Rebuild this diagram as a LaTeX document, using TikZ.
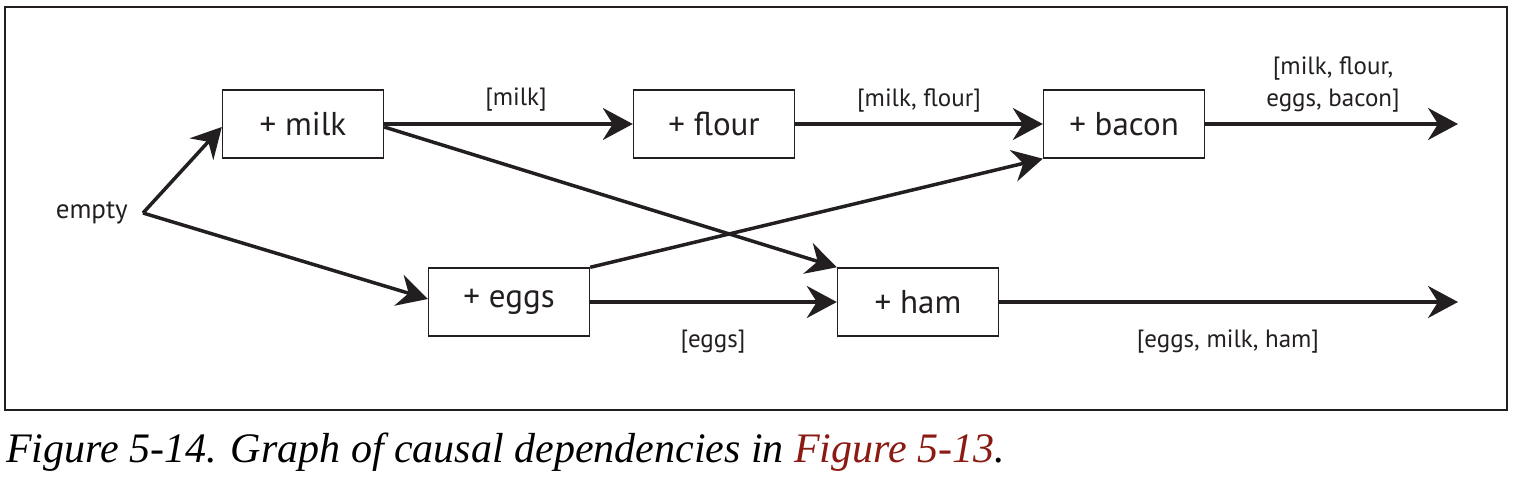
\documentclass[tikz,border=0pt]{standalone}
\usepackage{fontspec}
\setmainfont{PT Sans}
\newfontfamily\captionfont{Liberation Serif}
\usepackage{tikz}
\usetikzlibrary{arrows.meta, positioning}
\definecolor{ink}{HTML}{231F20}
\definecolor{figred}{HTML}{8B1A12}

\begin{document}
\begin{tikzpicture}[x=1pt,y=-1pt]
            \tikzstyle{every node}+=[inner sep=0pt, text=ink]
            \tikzstyle{box}=[draw=ink, line width=1.4pt, minimum width=161pt, minimum height=68pt, font=\fontsize{33}{36}\selectfont]
            \tikzstyle{lbl}=[font=\fontsize{25}{32}\selectfont, align=center]
            \tikzstyle{flow}=[draw=ink, line width=3.5pt, -{Stealth[length=30pt, width=32pt, inset=10pt]}]
            \useasboundingbox (0,0) rectangle (1520,484);
            \draw [ink, line width=1.2pt] (5,7) rectangle (1507,410);
            % states
            \node [box] (milk) at (303,124) {+ milk};
            \node [box] (flour) at (714,124) {+ flour};
            \node [box] (bacon) at (1124,124) {+ bacon};
            \node [box] (eggs) at (509,302) {+ eggs};
            \node [box] (ham) at (918,302) {+ ham};
            \coordinate (start) at (143,213);
            \node [font=\fontsize{27}{30}\selectfont, anchor=east] (empty) at (128,213) {empty};
            \coordinate (out1) at (1458,124);
            \coordinate (out2) at (1458,302);
            % edges
            \draw [flow] (start) -- ([yshift=-3pt]milk.west);
            \draw [flow] (start) -- ([yshift=3pt]eggs.west);
            \draw [flow] (milk) -- (flour);
            \draw [flow] (flour) -- (bacon);
            \draw [flow] ([yshift=-3pt]milk.east) -- (ham.north west);
            \draw [flow] (eggs.north east) -- (bacon.south west);
            \draw [flow] (eggs) -- (ham);
            \draw [flow] (bacon) -- (out1);
            \draw [flow] (ham) -- (out2);
            % labels
            \node [lbl] (lmilk) at (516,100) {[milk]};
            \node [lbl] (lflour) at (919,100) {[milk, flour]};
            \node [lbl] (lbacon) at (1333,84) {[milk, flour,\\eggs, bacon]};
            \node [lbl] (leggs) at (713,342) {[eggs]};
            \node [lbl] (lham) at (1228,342) {[eggs, milk, ham]};
            % caption
            \node [anchor=west, font=\captionfont\itshape\fontsize{42}{44}\selectfont, text=black] (caption) at (6,452) {Figure 5-14. Graph of causal dependencies in \textcolor{figred}{Figure 5-13}.};
\end{tikzpicture}
\end{document}
